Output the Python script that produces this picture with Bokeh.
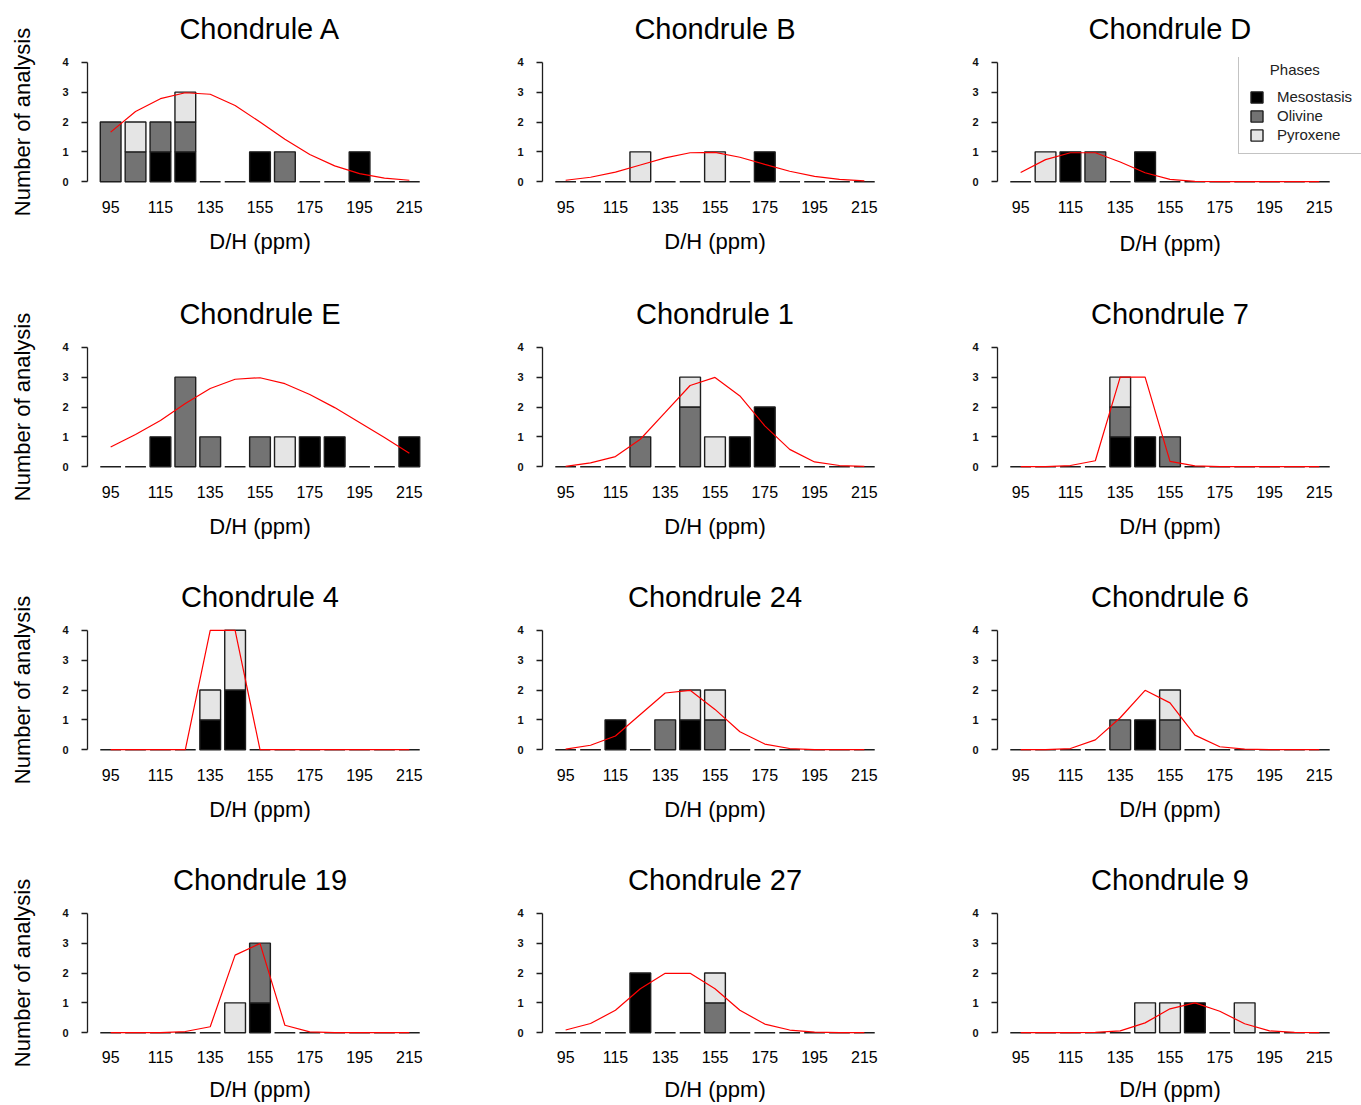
from bokeh.plotting import figure
from bokeh.layouts import column, row
from bokeh.models import Range1d, FixedTicker, Legend, LegendItem, ColumnDataSource, Title
from bokeh.embed import file_html
from bokeh.resources import INLINE

# ---------------- data ----------------
bins = [95, 105, 115, 125, 135, 145, 155, 165, 175, 185, 195, 205, 215]
x_tick_values = [95, 115, 135, 155, 175, 195, 215]
y_tick_values = [0, 1, 2, 3, 4]
phases = ["Mesostasis", "Olivine", "Pyroxene"]
phase_colors = ["#000000", "#737373", "#E5E5E5"]

titles = ["Chondrule A", "Chondrule B", "Chondrule D",
          "Chondrule E", "Chondrule 1", "Chondrule 7",
          "Chondrule 4", "Chondrule 24", "Chondrule 6",
          "Chondrule 19", "Chondrule 27", "Chondrule 9"]

meso_A = [0, 0, 1, 1, 0, 0, 1, 0, 0, 0, 1, 0, 0]
oli_A = [2, 1, 1, 1, 0, 0, 0, 1, 0, 0, 0, 0, 0]
pyx_A = [0, 1, 0, 1, 0, 0, 0, 0, 0, 0, 0, 0, 0]
fit_A = [1.66, 2.35, 2.78, 2.98, 2.93, 2.55, 2.0, 1.42, 0.91, 0.53, 0.27, 0.12, 0.05]

meso_B = [0, 0, 0, 0, 0, 0, 0, 0, 1, 0, 0, 0, 0]
oli_B = [0, 0, 0, 0, 0, 0, 0, 0, 0, 0, 0, 0, 0]
pyx_B = [0, 0, 0, 1, 0, 0, 1, 0, 0, 0, 0, 0, 0]
fit_B = [0.05, 0.15, 0.32, 0.56, 0.8, 0.97, 0.98, 0.82, 0.58, 0.35, 0.18, 0.08, 0.03]

meso_D = [0, 0, 1, 0, 0, 1, 0, 0, 0, 0, 0, 0, 0]
oli_D = [0, 0, 0, 1, 0, 0, 0, 0, 0, 0, 0, 0, 0]
pyx_D = [0, 1, 0, 0, 0, 0, 0, 0, 0, 0, 0, 0, 0]
fit_D = [0.31, 0.74, 0.97, 0.97, 0.66, 0.3, 0.08, 0.01, 0, 0, 0, 0, 0]

meso_E = [0, 0, 1, 0, 0, 0, 0, 0, 1, 1, 0, 0, 1]
oli_E = [0, 0, 0, 3, 1, 0, 1, 0, 0, 0, 0, 0, 0]
pyx_E = [0, 0, 0, 0, 0, 0, 0, 1, 0, 0, 0, 0, 0]
fit_E = [0.66, 1.08, 1.55, 2.12, 2.62, 2.93, 2.98, 2.78, 2.42, 1.98, 1.48, 0.98, 0.45]

meso_1 = [0, 0, 0, 0, 0, 0, 0, 1, 2, 0, 0, 0, 0]
oli_1 = [0, 0, 0, 1, 0, 2, 0, 0, 0, 0, 0, 0, 0]
pyx_1 = [0, 0, 0, 0, 0, 1, 1, 0, 0, 0, 0, 0, 0]
fit_1 = [0.01, 0.13, 0.34, 0.92, 1.82, 2.72, 2.99, 2.37, 1.37, 0.58, 0.16, 0.04, 0.01]

meso_7 = [0, 0, 0, 0, 1, 1, 0, 0, 0, 0, 0, 0, 0]
oli_7 = [0, 0, 0, 0, 1, 0, 1, 0, 0, 0, 0, 0, 0]
pyx_7 = [0, 0, 0, 0, 1, 0, 0, 0, 0, 0, 0, 0, 0]
fit_7 = [0, 0, 0.04, 0.2, 3.0, 3.0, 0.18, 0.03, 0, 0, 0, 0, 0]

meso_4 = [0, 0, 0, 0, 1, 2, 0, 0, 0, 0, 0, 0, 0]
oli_4 = [0, 0, 0, 0, 0, 0, 0, 0, 0, 0, 0, 0, 0]
pyx_4 = [0, 0, 0, 0, 1, 2, 0, 0, 0, 0, 0, 0, 0]
fit_4 = [0, 0, 0, 0, 4.0, 4.0, 0, 0, 0, 0, 0, 0, 0]

meso_24 = [0, 0, 1, 0, 0, 1, 0, 0, 0, 0, 0, 0, 0]
oli_24 = [0, 0, 0, 0, 1, 0, 1, 0, 0, 0, 0, 0, 0]
pyx_24 = [0, 0, 0, 0, 0, 1, 1, 0, 0, 0, 0, 0, 0]
fit_24 = [0.02, 0.15, 0.46, 1.18, 1.9, 1.99, 1.35, 0.6, 0.19, 0.04, 0, 0, 0]

meso_6 = [0, 0, 0, 0, 0, 1, 0, 0, 0, 0, 0, 0, 0]
oli_6 = [0, 0, 0, 0, 1, 0, 1, 0, 0, 0, 0, 0, 0]
pyx_6 = [0, 0, 0, 0, 0, 0, 1, 0, 0, 0, 0, 0, 0]
fit_6 = [0, 0, 0.04, 0.33, 1.07, 1.99, 1.57, 0.49, 0.1, 0.02, 0, 0, 0]

meso_19 = [0, 0, 0, 0, 0, 0, 1, 0, 0, 0, 0, 0, 0]
oli_19 = [0, 0, 0, 0, 0, 0, 2, 0, 0, 0, 0, 0, 0]
pyx_19 = [0, 0, 0, 0, 0, 1, 0, 0, 0, 0, 0, 0, 0]
fit_19 = [0, 0, 0, 0.04, 0.2, 2.6, 2.99, 0.25, 0.03, 0, 0, 0, 0]

meso_27 = [0, 0, 0, 2, 0, 0, 0, 0, 0, 0, 0, 0, 0]
oli_27 = [0, 0, 0, 0, 0, 0, 1, 0, 0, 0, 0, 0, 0]
pyx_27 = [0, 0, 0, 0, 0, 0, 1, 0, 0, 0, 0, 0, 0]
fit_27 = [0.09, 0.31, 0.75, 1.47, 1.99, 1.99, 1.47, 0.75, 0.29, 0.09, 0.02, 0, 0]

meso_9 = [0, 0, 0, 0, 0, 0, 0, 1, 0, 0, 0, 0, 0]
oli_9 = [0, 0, 0, 0, 0, 0, 0, 0, 0, 0, 0, 0, 0]
pyx_9 = [0, 0, 0, 0, 0, 1, 1, 0, 0, 1, 0, 0, 0]
fit_9 = [0, 0, 0, 0.01, 0.06, 0.33, 0.8, 1.0, 0.72, 0.3, 0.06, 0.01, 0]

panels = [
    (titles[0], meso_A, oli_A, pyx_A, fit_A),
    (titles[1], meso_B, oli_B, pyx_B, fit_B),
    (titles[2], meso_D, oli_D, pyx_D, fit_D),
    (titles[3], meso_E, oli_E, pyx_E, fit_E),
    (titles[4], meso_1, oli_1, pyx_1, fit_1),
    (titles[5], meso_7, oli_7, pyx_7, fit_7),
    (titles[6], meso_4, oli_4, pyx_4, fit_4),
    (titles[7], meso_24, oli_24, pyx_24, fit_24),
    (titles[8], meso_6, oli_6, pyx_6, fit_6),
    (titles[9], meso_19, oli_19, pyx_19, fit_19),
    (titles[10], meso_27, oli_27, pyx_27, fit_27),
    (titles[11], meso_9, oli_9, pyx_9, fit_9),
]

# ---------------- layout / style ----------------
FONT = "Liberation Sans"
FRAME_W, FRAME_H = 345, 129
bar_w = (bins[1] - bins[0]) / 1.2
x_lo = bins[0] - bar_w / 2
x_hi = bins[-1] + bar_w / 2
x_pad = 0.04 * (x_hi - x_lo)
y_pad = 0.04 * 4
px_per_unit = FRAME_W / (x_hi - x_lo + 2 * x_pad)

col_border_left = [87, 87, 87]
col_border_right = [23, 23, 19]
row_border_top = [57, 58, 58, 57]
row_border_bottom = [98, 96, 97, 68]
xtick_standoff = [14, 14, 14, 13]
xlabel_standoff = [13, 13, 13, 11]
LEGEND_EXTRA = 19  # the legend panel's frame reaches the window edge


def make_panel(idx, title, meso, oli, pyx, fit):
    r, c = divmod(idx, 3)
    has_legend = idx == 2
    extra = LEGEND_EXTRA if has_legend else 0
    p = figure(frame_width=FRAME_W + extra, frame_height=FRAME_H,
               x_range=Range1d(x_lo - x_pad, x_hi + x_pad + extra / px_per_unit),
               y_range=Range1d(-y_pad, 4 + y_pad),
               output_backend="svg", toolbar_location=None,
               min_border_left=col_border_left[c],
               min_border_right=col_border_right[c] - extra,
               min_border_top=row_border_top[r], min_border_bottom=row_border_bottom[r],
               outline_line_color=None, background_fill_color="white",
               border_fill_color="white")
    p.grid.visible = False
    ttl = Title(text=title, text_font=FONT, text_font_size="29px", text_font_style="normal",
                text_color="black", standoff=22, vertical_align="top")
    if has_legend:
        ttl.align = "left"
        ttl.offset = 91
    else:
        ttl.align = "center"
    p.add_layout(ttl, "above")

    # stacked bars
    renderers = []
    bottom = [0] * len(bins)
    for layer, color in zip([meso, oli, pyx], phase_colors):
        xs, bs, ts = [], [], []
        for b, lo, v in zip(bins, bottom, layer):
            if v > 0:
                xs.append(b)
                bs.append(lo)
                ts.append(lo + v)
        src = ColumnDataSource(dict(x=xs, bottom=bs, top=ts))
        rr = p.vbar(x="x", bottom="bottom", top="top", width=bar_w, source=src,
                    fill_color=color, line_color="#1e1e1e", line_width=1.4)
        renderers.append(rr)
        bottom = [lo + v for lo, v in zip(bottom, layer)]

    # zero-height bars drawn as flat outlines
    zx = [b for b, t in zip(bins, bottom) if t == 0]
    p.segment(x0=[b - bar_w / 2 for b in zx], x1=[b + bar_w / 2 for b in zx],
              y0=[0] * len(zx), y1=[0] * len(zx), line_color="#1e1e1e", line_width=1.4)

    # fitted curve
    p.line(bins, fit, line_color="red", line_width=1.2)

    # x axis
    xa = p.xaxis[0]
    xa.ticker = FixedTicker(ticks=x_tick_values)
    xa.axis_line_color = None
    xa.major_tick_line_color = None
    xa.minor_tick_line_color = None
    xa.major_tick_out = 0
    xa.major_tick_in = 0
    xa.major_label_standoff = xtick_standoff[r]
    xa.major_label_text_font = FONT
    xa.major_label_text_font_size = "16px"
    xa.major_label_text_color = "black"
    if has_legend:
        xt = Title(text="D/H (ppm)", text_font=FONT, text_font_size="22px",
                   text_font_style="normal", text_color="black",
                   align="left", offset=122, standoff=xlabel_standoff[r] + 13)
        p.add_layout(xt, "below")
    else:
        xa.axis_label = "D/H (ppm)"
        xa.axis_label_text_font = FONT
        xa.axis_label_text_font_size = "22px"
        xa.axis_label_text_font_style = "normal"
        xa.axis_label_text_color = "black"
        xa.axis_label_standoff = xlabel_standoff[r]

    # y axis
    ya = p.yaxis[0]
    ya.ticker = FixedTicker(ticks=y_tick_values)
    ya.bounds = (0, 4)
    ya.axis_line_color = "#1e1e1e"
    ya.axis_line_width = 1.3
    ya.major_tick_line_color = "#1e1e1e"
    ya.major_tick_line_width = 1.3
    ya.minor_tick_line_color = None
    ya.major_tick_out = 6
    ya.major_tick_in = 0
    ya.major_label_standoff = 13
    ya.major_label_text_font = FONT
    ya.major_label_text_font_size = "11px"
    ya.major_label_text_font_style = "bold"
    ya.major_label_text_color = "#111111"
    if c == 0:
        ya.axis_label = "Number of analysis"
        ya.axis_label_text_font = FONT
        ya.axis_label_text_font_size = "22px"
        ya.axis_label_text_font_style = "normal"
        ya.axis_label_text_color = "black"
        ya.axis_label_standoff = 24

    if has_legend:
        legend = Legend(
            items=[LegendItem(label=ph, renderers=[rr]) for ph, rr in zip(phases, renderers)],
            location=(241, 32), orientation="vertical",
            title="\u00a0\u00a0\u00a0\u00a0\u00a0Phases",
            title_text_font=FONT, title_text_font_size="15px", title_text_font_style="normal",
            title_text_color="#222222", title_standoff=10,
            label_text_font=FONT, label_text_font_size="15px", label_text_color="#222222",
            padding=10, spacing=2, glyph_width=15, glyph_height=14, label_height=15,
            label_standoff=13, margin=0,
            border_line_color="#888888", border_line_width=1.5,
            background_fill_color="white", background_fill_alpha=1.0)
        p.add_layout(legend)
    return p


figs = [make_panel(i, *pn) for i, pn in enumerate(panels)]
layout = column(*[row(*figs[3 * k:3 * k + 3]) for k in range(4)])

open("out.html", "w").write(file_html(layout, INLINE))
